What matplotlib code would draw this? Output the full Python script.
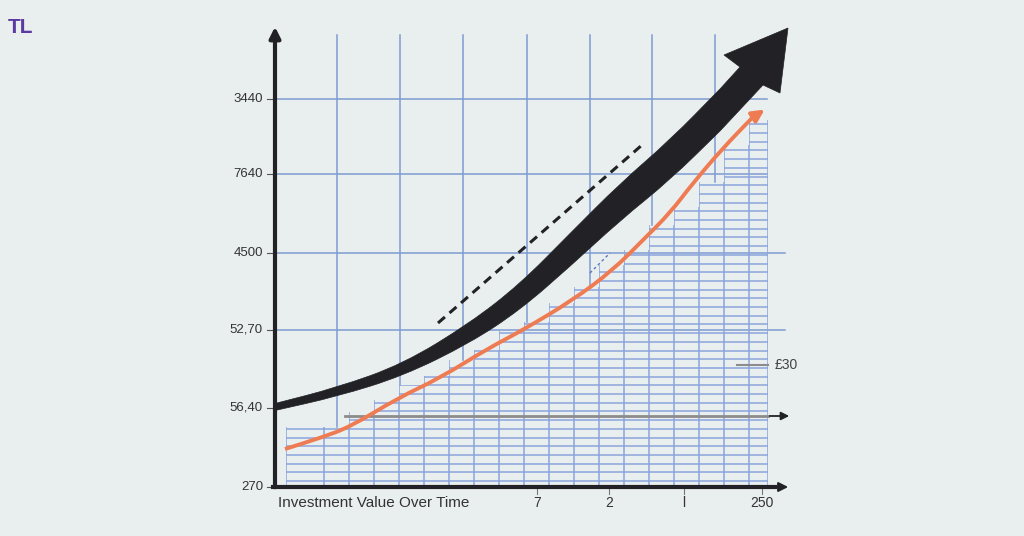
import numpy as np
import matplotlib.pyplot as plt
from matplotlib.patches import Polygon, PathPatch
from matplotlib.path import Path
from matplotlib.collections import LineCollection

# axis corner is the origin, units roughly one pixel
y_tick_vals = [0, 79, 157, 234, 313, 388]
y_tick_labels = ['270', '56,40', '52,70', '4500', '7640', '3440']
x_tick_vals = [262, 334, 409, 487]
x_tick_labels = ['7', '2', 'l', '250']

big_grid_x = [62, 125, 188, 252, 315, 377, 440]
big_grid_y = [388, 313, 234, 157]
big_grid_right = [492, 492, 510, 510]

# staircase of the fine grid under the curve
step_edges = [11, 49, 74, 99, 124, 149, 174, 199, 224, 249, 274, 299, 324,
              349, 374, 399, 424, 449, 474, 493]
step_tops = [60, 60, 75, 87, 102, 111, 127, 137, 157, 165, 184, 200, 222,
             237, 262, 280, 305, 342, 367]
fine_rows = np.arange(6, 380, 8.7)

# orange growth curve
curve_x = [10, 45, 75, 123, 165, 212, 248, 298, 338, 368, 395, 418, 448, 477]
curve_y = [38, 49, 60, 89, 109, 138, 157, 187, 217, 247, 274, 304, 339, 369]
curve_tip = (492, 379)

# black trend arrow (centre line and vertical thickness)
band_x = [0, 62, 128, 195, 245, 295, 345, 395, 445]
band_c = [80, 95, 117, 154, 190, 237, 285, 327, 377]
band_t = [7, 9, 12, 20, 26, 33, 37, 40, 42]
head_x = [465, 449, 513, 505, 488]
head_y = [420, 432, 459, 394, 402]

dash_x = [163, 367]
dash_y = [164, 342]

bg = '#e9eeef'
blue = '#7e9bd3'
fine_blue = '#8aa4dc'
dark = '#222226'


def smooth(pts):
    # quadratic bezier through midpoints, drawn by matplotlib's path
    verts = [pts[0], ((pts[0][0] + pts[1][0]) / 2, (pts[0][1] + pts[1][1]) / 2)]
    codes = [Path.MOVETO, Path.LINETO]
    for i in range(1, len(pts) - 1):
        nxt = pts[i + 1]
        mid = ((pts[i][0] + nxt[0]) / 2, (pts[i][1] + nxt[1]) / 2)
        verts += [pts[i], mid]
        codes += [Path.CURVE3, Path.CURVE3]
    verts.append(pts[-1])
    codes.append(Path.LINETO)
    return verts, codes


fig = plt.figure(figsize=(10.24, 5.36), dpi=100, facecolor=bg)
ax = fig.add_axes([0, 0, 1, 1])
ax.set_facecolor(bg)
ax.set_xlim(-275, 749)
ax.set_ylim(-49, 487)
ax.axis('off')

# coarse grid, verticals stop at the fine grid
for gx in big_grid_x:
    idx = np.searchsorted(step_edges, gx, side='right') - 1
    low = step_tops[min(max(idx, 0), len(step_tops) - 1)]
    ax.plot([gx, gx], [low, 452], color=blue, lw=1.1, zorder=1)
for gy, gr in zip(big_grid_y, big_grid_right):
    ax.plot([0, gr], [gy, gy], color=blue, lw=1.1, zorder=1)

# fine grid clipped to the staircase
verts = [(step_edges[0], 0)]
for i, top in enumerate(step_tops):
    verts.append((step_edges[i], top))
    verts.append((step_edges[i + 1], top))
verts.append((step_edges[-1], 0))
stair = Polygon(verts, closed=True, facecolor='none', edgecolor='none')
ax.add_patch(stair)
rows = LineCollection([[(step_edges[0] - 8, r), (step_edges[-1], r)] for r in fine_rows],
                      colors=fine_blue, linewidths=1.1, zorder=2)
cols = LineCollection([[(e, 0), (e, 400)] for e in step_edges],
                      colors=fine_blue, linewidths=1.1, zorder=2)
for lc in (rows, cols):
    ax.add_collection(lc)
    lc.set_clip_path(stair)

# gray reference lines
ax.plot([70, 493], [71, 71], color='#8c8c8c', lw=2, zorder=3)
ax.annotate('', xy=(517, 71), xytext=(492, 71),
            arrowprops=dict(arrowstyle='-|>', color=dark, lw=1.3, mutation_scale=12))
ax.plot([462, 493], [122, 122], color='#8c8c8c', lw=1.5, zorder=3)
ax.text(500, 122, '£30', fontsize=10, family='Liberation Sans', color='#444444', va='center')

# orange curve with head
cv, cc = smooth(list(zip(curve_x, curve_y)))
ax.add_patch(PathPatch(Path(cv, cc), facecolor='none', edgecolor='#ef7b52', lw=2.8,
                       capstyle='butt', zorder=4))
ax.annotate('', xy=curve_tip, xytext=(curve_x[-1], curve_y[-1]),
            arrowprops=dict(arrowstyle='-|>', color='#ef7b52', lw=2.8, mutation_scale=18),
            zorder=4)

# dashed trend line
ax.plot(dash_x, dash_y, color=dark, lw=2.2, dashes=(3, 2), zorder=4)
ax.plot([315, 335], [214, 234], color='#5a78b8', lw=1.0, dashes=(2, 2), zorder=4)

# black arrow band
top = [(x, c + t / 2) for x, c, t in zip(band_x, band_c, band_t)]
bot = [(x, c - t / 2) for x, c, t in zip(band_x, band_c, band_t)][::-1]
tv, tc = smooth(top)
bv, bc = smooth(bot)
hv = list(zip(head_x, head_y))
all_v = tv + hv + bv + [tv[0]]
all_c = tc + [Path.LINETO] * len(hv) + [Path.LINETO] + bc[1:] + [Path.CLOSEPOLY]
ax.add_patch(PathPatch(Path(all_v, all_c), facecolor=dark, edgecolor=dark, lw=0.5, zorder=5))

# axes with arrows
ax.annotate('', xy=(0, 463), xytext=(0, -3),
            arrowprops=dict(arrowstyle='-|>', color=dark, lw=3, mutation_scale=16), zorder=6)
ax.plot([-2, 500], [0, 0], color=dark, lw=3, zorder=6)
ax.annotate('', xy=(516, 0), xytext=(495, 0),
            arrowprops=dict(arrowstyle='-|>', color=dark, lw=1.5, mutation_scale=14), zorder=6)

# y ticks
for v, lab in zip(y_tick_vals, y_tick_labels):
    ax.plot([-8, -2], [v, v], color='#555555', lw=0.8)
    ax.text(-12, v, lab, ha='right', va='center', fontsize=9.5,
            family='Liberation Sans', color='#333333')

# x ticks
for v, lab in zip(x_tick_vals, x_tick_labels):
    ax.plot([v, v], [-2, -7], color='#777777', lw=0.8)
    ax.text(v, -16, lab, ha='center', va='center', fontsize=10,
            family='Liberation Sans', color='#333333')
ax.text(3, -16, 'Investment Value Over Time', ha='left', va='center', fontsize=11,
        family='Liberation Sans', color='#333333')

# logo
fig.text(0.008, 0.948, 'TL', fontsize=15, fontweight='bold', family='Liberation Sans',
         color='#5b3aa0', va='center')

fig.savefig('out.png', dpi=100, facecolor=bg)
